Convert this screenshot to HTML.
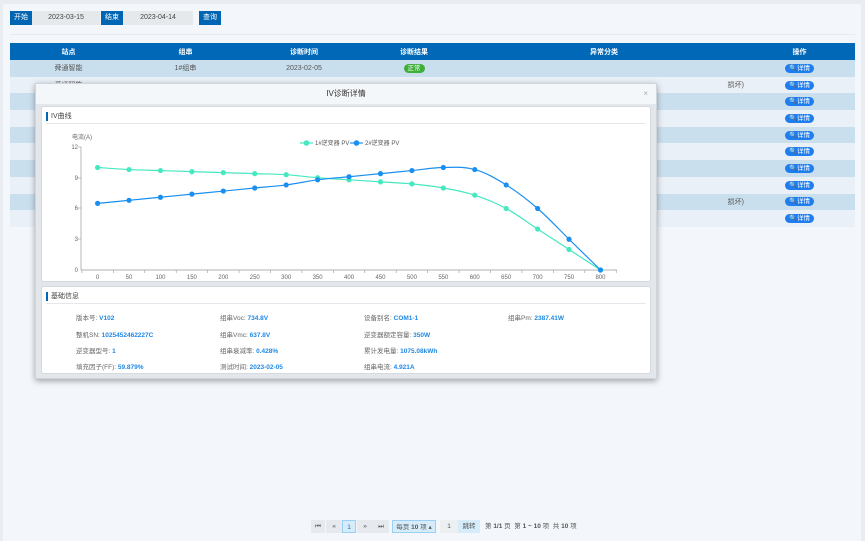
<!DOCTYPE html>
<html><head><meta charset="utf-8"><style>
*{box-sizing:border-box;margin:0;padding:0}
body{width:865px;height:541px;background:#e9edf1;font-family:"Liberation Sans","Noto Sans CJK SC",sans-serif;font-size:7px;color:#555;position:relative;overflow:hidden}
.abs{position:absolute}
.page{left:3px;top:4px;width:858px;height:537px;background:#f3f7fb}
.btn{background:#0066b3;color:#fff;font-size:7px;text-align:center;line-height:14px;height:14px}
.inp{background:#e6e9ec;color:#444;font-size:7px;text-align:center;line-height:14px;height:14px}
table{border-collapse:collapse;position:absolute;left:10px;top:43px;width:845px}
th{background:#0068b7;color:#fff;height:17px;font-size:7px;font-weight:bold}
td{height:16.7px;text-align:center;font-size:7px;color:#555}
tr:nth-child(even) td{background:#c9dfee}
tr:nth-child(odd) td{background:#eaf0f7}
.det{display:inline-block;background:#1e7ef0;color:#fff;border-radius:6px;padding:0 4px;line-height:9px;font-size:6.5px}
.modal{left:35px;top:83px;width:622px;height:296px;background:#e3e7eb;border:1px solid #cfd5db;box-shadow:0 2px 6px rgba(0,0,0,.35)}
.mt{left:0;top:0;width:620px;height:20px;background:#f4f7fa;text-align:center;line-height:20px;font-size:8px;color:#333}
.panel{background:#fff;border:1px solid #d5dade;border-radius:3px}
.ph{font-size:7px;color:#444;border-left:2px solid #0068b7;padding-left:3px;line-height:9px}
.lbl{font-size:6.5px;color:#666}
.lbl b{color:#1e88e5;font-weight:bold}
.pg{height:13px;line-height:13px;font-size:6.5px;text-align:center;color:#555;background:#e6eaee}
</style></head><body>
<div class="abs page"></div>
<div class="abs btn" style="left:10px;top:11px;width:22px">开始</div>
<div class="abs inp" style="left:32px;top:11px;width:68px">2023-03-15</div>
<div class="abs btn" style="left:101px;top:11px;width:22px">结束</div>
<div class="abs inp" style="left:123px;top:11px;width:70px">2023-04-14</div>
<div class="abs btn" style="left:199px;top:11px;width:22px">查询</div>
<div class="abs" style="left:10px;top:34px;width:845px;height:1px;background:#e6ebf0"></div>
<table>
<tr><th style="width:117px">站点</th><th style="width:117px">组串</th><th style="width:120px">诊断时间</th><th style="width:100px">诊断结果</th><th style="width:280px">异常分类</th><th>操作</th></tr>
<tr><td>舜通智能</td><td>1#组串</td><td>2023-02-05</td><td><span class="det" style="background:#3fae3a">正常</span></td><td></td><td><span class="det">🔍详情</span></td></tr>
<tr><td>舜通智能</td><td></td><td></td><td></td><td style="text-align:right">损坏)</td><td><span class="det">🔍详情</span></td></tr>
<tr><td></td><td></td><td></td><td></td><td></td><td><span class="det">🔍详情</span></td></tr>
<tr><td></td><td></td><td></td><td></td><td></td><td><span class="det">🔍详情</span></td></tr>
<tr><td></td><td></td><td></td><td></td><td></td><td><span class="det">🔍详情</span></td></tr>
<tr><td></td><td></td><td></td><td></td><td></td><td><span class="det">🔍详情</span></td></tr>
<tr><td></td><td></td><td></td><td></td><td></td><td><span class="det">🔍详情</span></td></tr>
<tr><td></td><td></td><td></td><td></td><td></td><td><span class="det">🔍详情</span></td></tr>
<tr><td></td><td></td><td></td><td></td><td style="text-align:right">损坏)</td><td><span class="det">🔍详情</span></td></tr>
<tr><td></td><td></td><td></td><td></td><td></td><td><span class="det">🔍详情</span></td></tr>
</table>

<div class="abs modal">
<div class="abs mt">IV诊断详情<span style="position:absolute;right:8px;color:#aaa">×</span></div>
<div class="abs panel" style="left:5px;top:22px;width:610px;height:176px">
 <div class="abs ph" style="left:4px;top:5px">IV曲线</div>
 <div class="abs" style="left:4px;top:16px;width:600px;height:1px;background:#e4e8ec"></div>
</div>
<div class="abs panel" style="left:5px;top:202px;width:610px;height:88px">
 <div class="abs ph" style="left:4px;top:5px">基础信息</div>
 <div class="abs" style="left:4px;top:16px;width:600px;height:1px;background:#e4e8ec"></div>
 <div class="abs lbl" style="left:34px;top:25px">版本号: <b>V102</b></div>
 <div class="abs lbl" style="left:178px;top:25px">组串Voc: <b>734.8V</b></div>
 <div class="abs lbl" style="left:322px;top:25px">设备别名: <b>COM1-1</b></div>
 <div class="abs lbl" style="left:466px;top:25px">组串Pm: <b>2387.41W</b></div>
 <div class="abs lbl" style="left:34px;top:42px">整机SN: <b>1025452462227C</b></div>
 <div class="abs lbl" style="left:178px;top:42px">组串Vmc: <b>637.8V</b></div>
 <div class="abs lbl" style="left:322px;top:42px">逆变器额定容量: <b>350W</b></div>
 <div class="abs lbl" style="left:34px;top:58px">逆变器型号: <b>1</b></div>
 <div class="abs lbl" style="left:178px;top:58px">组串衰减率: <b>0.428%</b></div>
 <div class="abs lbl" style="left:322px;top:58px">累计发电量: <b>1075.08kWh</b></div>
 <div class="abs lbl" style="left:34px;top:74px">填充因子(FF): <b>59.879%</b></div>
 <div class="abs lbl" style="left:178px;top:74px">测试时间: <b>2023-02-05</b></div>
 <div class="abs lbl" style="left:322px;top:74px">组串电流: <b>4.921A</b></div>
</div>
</div>

<svg class="abs" style="left:0;top:0" width="865" height="541" font-family="Liberation Sans, Noto Sans CJK SC, sans-serif">
<g font-size="6" fill="#666">
<text x="72" y="139">电流(A)</text>
<line x1="81" y1="147" x2="81" y2="270" stroke="#999" stroke-width="0.7"/>
<line x1="81" y1="270" x2="617" y2="270" stroke="#999" stroke-width="0.7"/>
<g text-anchor="end"><text x="78" y="149">12</text><text x="78" y="180">9</text><text x="78" y="210">6</text><text x="78" y="241">3</text><text x="78" y="272">0</text></g>
<g stroke="#999" stroke-width="0.6"><line x1="78" y1="147" x2="81" y2="147"/><line x1="78" y1="178" x2="81" y2="178"/><line x1="78" y1="208" x2="81" y2="208"/><line x1="78" y1="239" x2="81" y2="239"/></g>
<g text-anchor="middle" id="xl"></g>
<g stroke="#999" stroke-width="0.6" id="xt"></g>
</g>
<g font-size="6" fill="#555">
<line x1="300" y1="143" x2="313" y2="143" stroke="#45e8c0" stroke-width="1.2"/><circle cx="306.5" cy="143" r="2.8" fill="#45e8c0"/><text x="315" y="145">1#逆变器 PV</text>
<line x1="350" y1="143" x2="363" y2="143" stroke="#1a8ff0" stroke-width="1.2"/><circle cx="356.5" cy="143" r="2.8" fill="#1a8ff0"/><text x="365" y="145">2#逆变器 PV</text>
</g>
<path id="p1" fill="none" stroke="#45e8c0" stroke-width="1.2"/>
<path id="p2" fill="none" stroke="#1a8ff0" stroke-width="1.2"/>
<g id="d1" fill="#45e8c0"></g><g id="d2" fill="#1a8ff0"></g>
</svg>

<div class="abs pg" style="left:311px;top:520px;width:14px">⏮</div>
<div class="abs pg" style="left:326px;top:520px;width:16px">«</div>
<div class="abs pg" style="left:342px;top:520px;width:14px;background:#d6ecfb;border:1px solid #9ccff4;color:#1a6fb8">1</div>
<div class="abs pg" style="left:357px;top:520px;width:16px">»</div>
<div class="abs pg" style="left:373px;top:520px;width:16px">⏭</div>
<div class="abs pg" style="left:392px;top:520px;width:44px;background:#d6ecfb;border:1px solid #9ccff4">每页 <b>10</b> 项 ▴</div>
<div class="abs pg" style="left:440px;top:520px;width:18px;background:#edf0f3">1</div>
<div class="abs pg" style="left:458px;top:520px;width:22px;background:#d6ecfb">跳转</div>
<div class="abs" style="left:485px;top:520px;line-height:13px;font-size:6.5px;color:#555">第 <b>1/1</b> 页 &nbsp;第 <b>1 ~ 10</b> 项 &nbsp;共 <b>10</b> 项</div>

<script>
var ns="http://www.w3.org/2000/svg";
function X(i){return 97.6+i*31.43}function Y(v){return 270-v*10.25}
var s1=[10,9.8,9.7,9.6,9.5,9.4,9.3,9.0,8.8,8.6,8.4,8.0,7.3,6.0,4.0,2.0,0];
var s2=[6.5,6.8,7.1,7.4,7.7,8.0,8.3,8.8,9.1,9.4,9.7,10,9.8,8.3,6.0,3.0,0];
var xl=document.getElementById('xl'),xt=document.getElementById('xt');
for(var i=0;i<17;i++){var t=document.createElementNS(ns,'text');t.setAttribute('x',X(i));t.setAttribute('y',279);t.textContent=i*50;xl.appendChild(t);}
for(var i=0;i<18;i++){var l=document.createElementNS(ns,'line');var x=X(i)-15.7;l.setAttribute('x1',x);l.setAttribute('x2',x);l.setAttribute('y1',270);l.setAttribute('y2',273);xt.appendChild(l);}
function path(s){var p=s.map(function(v,i){return[X(i),Y(v)]});var d='M'+p[0];
for(var i=0;i<p.length-1;i++){var a=p[i-1]||p[i],b=p[i],c=p[i+1],e=p[i+2]||c;var k=0.18;
d+=' C'+(b[0]+(c[0]-a[0])*k)+','+(b[1]+(c[1]-a[1])*k)+' '+(c[0]-(e[0]-b[0])*k)+','+(c[1]-(e[1]-b[1])*k)+' '+c;}return d;}
document.getElementById('p1').setAttribute('d',path(s1));document.getElementById('p2').setAttribute('d',path(s2));
[[s1,'d1'],[s2,'d2']].forEach(function(q){var g=document.getElementById(q[1]);q[0].forEach(function(v,i){var c=document.createElementNS(ns,'circle');c.setAttribute('cx',X(i));c.setAttribute('cy',Y(v));c.setAttribute('r',2.6);g.appendChild(c);});});
</script>
</body></html>
